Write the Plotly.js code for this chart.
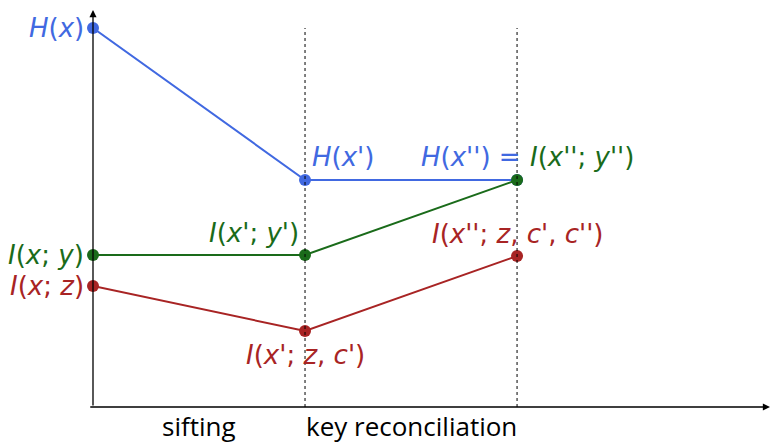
<!DOCTYPE html>
<html><head><meta charset="utf-8">
<script src="https://cdn.plot.ly/plotly-3.0.1.min.js"></script>
<style>html,body{margin:0;padding:0;background:#fff}#chart{width:771px;height:444px}</style>
</head><body><div id="chart"></div>
<script>
// Stages along the protocol (x positions) and information quantities (arbitrary units)
const stages = [0, 1, 2];
const stageLabels = ['sifting', 'key reconciliation'];
const stageLabelX = [0.5, 1.5];
const entropyH = [3.79, 2.27, 2.27];      // H(x), H(x'), H(x'')
const mutualXY = [1.52, 1.52, 2.27];      // I(x;y), I(x';y'), I(x'';y'')
const mutualXZ = [1.21, 0.76, 1.51];      // I(x;z), I(x';z,c'), I(x'';z,c',c'')

const BLUE = '#4169e1', GREEN = '#1a6b1a', RED = '#a82424';
const FONT = '"Open Sans", sans-serif';
const MATH = '"DejaVu Sans", sans-serif';
const FS = 26;

function series(y, color) {
  return {x: stages, y: y, mode: 'lines+markers', type: 'scatter', cliponaxis: false,
    line: {color: color, width: 2}, marker: {color: color, size: 12}, hoverinfo: 'skip'};
}
const data = [series(entropyH, BLUE), series(mutualXY, GREEN), series(mutualXZ, RED)];

function lab(text, x, y, color, xanchor, xshift, yshift) {
  return {text: text, x: x, y: y, xref: 'x', yref: 'y', showarrow: false,
    xanchor: xanchor, yanchor: 'middle', xshift: xshift || 0, yshift: yshift || 0,
    font: {family: MATH, size: 26, color: color}};
}
const P = "'", PP = "''";
const annotations = [
  lab('<i>H</i>(<i>x</i>)', stages[0], entropyH[0], BLUE, 'right', -7),
  lab('<i>H</i>(<i>x' + P + '</i>)', stages[1], entropyH[1], BLUE, 'left', 5, 23),
  lab('<i>H</i>(<i>x' + PP + '</i>) =', stages[2], entropyH[2], BLUE, 'right', 6, 23),
  lab('<i>I</i>(<i>x' + PP + '</i>; <i>y' + PP + '</i>)', stages[2], mutualXY[2], GREEN, 'left', 11, 23),
  lab('<i>I</i>(<i>x</i>; <i>y</i>)', stages[0], mutualXY[0], GREEN, 'right', -7),
  lab('<i>I</i>(<i>x' + P + '</i>; <i>y' + P + '</i>)', stages[1], mutualXY[1], GREEN, 'right', -4, 22),
  lab('<i>I</i>(<i>x</i>; <i>z</i>)', stages[0], mutualXZ[0], RED, 'right', -7),
  lab('<i>I</i>(<i>x' + P + '</i>; <i>z</i>, <i>c' + P + '</i>)', stages[1], mutualXZ[1], RED, 'center', 0, -24),
  lab('<i>I</i>(<i>x' + PP + '</i>; <i>z</i>, <i>c' + P + '</i>, <i>c' + PP + '</i>)', stages[2], mutualXZ[2], RED, 'center', 0, 22),
  // axis arrows
  {x: 3.193, y: 0, ax: -0.02, ay: 0, xref: 'x', yref: 'y', axref: 'x', ayref: 'y', text: '',
   showarrow: true, arrowhead: 2, arrowsize: 1.1, arrowwidth: 1.3, arrowcolor: '#000', standoff: 0, startstandoff: 0},
  {x: 0, y: 3.97, ax: 0, ay: 0, xref: 'x', yref: 'y', axref: 'x', ayref: 'y', text: '',
   showarrow: true, arrowhead: 2, arrowsize: 1.1, arrowwidth: 1.3, arrowcolor: '#000', standoff: 0, startstandoff: 0}
];
stageLabels.forEach((t, i) => annotations.push({text: t, x: stageLabelX[i], y: 0, xref: 'x', yref: 'paper',
  showarrow: false, xanchor: 'center', yanchor: 'middle', yshift: -19, borderpad: 0,
  font: {family: FONT, size: FS, color: '#000'}}));

const shapes = [1, 2].map(i => ({type: 'line', xref: 'x', yref: 'y', x0: stages[i], x1: stages[i],
  y0: 0, y1: entropyH[0], layer: 'above', line: {color: '#000', width: 1, dash: 'dot'}}));

const layout = {
  width: 771, height: 444, margin: {l: 93, r: 1, t: 10, b: 37},
  paper_bgcolor: '#fff', plot_bgcolor: '#fff', showlegend: false,
  xaxis: {range: [0, 3.193], showgrid: false, zeroline: false, showline: false, showticklabels: false, ticks: '', fixedrange: true},
  yaxis: {range: [0, 3.97], showgrid: false, zeroline: false, showline: false, showticklabels: false, ticks: '', fixedrange: true},
  annotations: annotations, shapes: shapes
};
Plotly.newPlot('chart', data, layout, {staticPlot: true});
</script></body></html>
